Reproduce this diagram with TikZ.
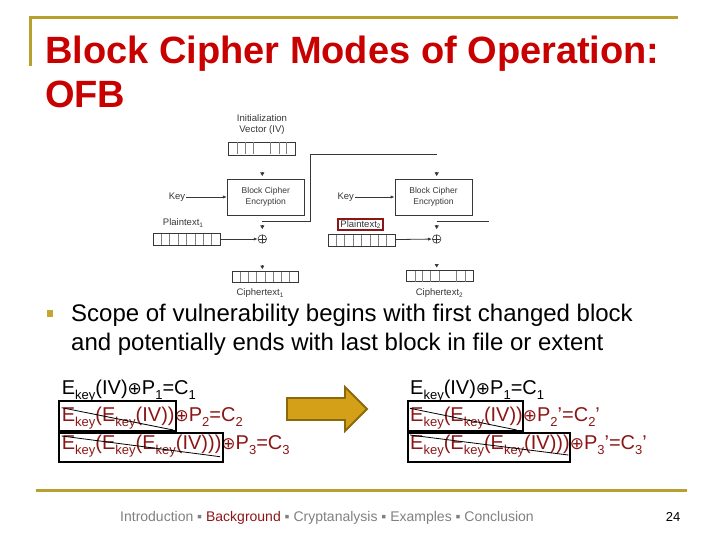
\documentclass[tikz,border=0pt]{standalone}
\usepackage{fontspec}
\setmainfont{Liberation Sans}
\newfontfamily\dejavu{DejaVu Sans}
\usetikzlibrary{arrows.meta}
\definecolor{gold}{RGB}{184,160,48}
\definecolor{bulgold}{RGB}{196,166,50}
\definecolor{titlered}{RGB}{200,0,0}
\definecolor{dred}{RGB}{140,22,22}
\definecolor{arrfill}{RGB}{212,160,23}
\definecolor{arrline}{RGB}{140,104,10}
\definecolor{dgray}{RGB}{55,55,55}
\definecolor{footgray}{RGB}{128,128,128}
\newcommand\sbs[1]{\raisebox{-5pt}{\fontsize{13}{13}\selectfont #1}}
\newcommand\xo{{\dejavu\fontsize{17}{17}\selectfont ⊕}}
\newcommand\dsb[1]{\raisebox{-1.8pt}{\fontsize{6.5}{6.5}\selectfont #1}}
\tikzset{
  dtext/.style={font=\fontsize{9.5}{11}\selectfont, text=dgray, inner sep=1pt},
  encbox/.style={draw=dgray, line width=0.7pt, minimum width=77pt, minimum height=36pt, inner sep=0pt, align=center, font=\fontsize{8.5}{10.5}\selectfont, text=dgray},
  blk/.style={draw=dgray, line width=0.7pt, inner sep=0pt},
  cellline/.style={draw=gray, line width=0.6pt},
  dline/.style={draw=dgray, line width=0.8pt},
  darr/.style={dline, -{Latex[length=4pt,width=3.2pt]}},
  tipdn/.style={draw=dgray, line width=0.6pt, -{Triangle[length=3.5pt,width=4pt]}},
  xor/.style={circle, draw=dgray, line width=0.6pt, minimum size=8.5pt, inner sep=0pt,
    path picture={\draw[dgray, line width=0.6pt] (path picture bounding box.north) -- (path picture bounding box.south) (path picture bounding box.west) -- (path picture bounding box.east);}},
  eq/.style={anchor=base west, inner sep=0pt, font=\fontsize{20}{24}\selectfont},
  xbox/.style={draw=black, line width=2pt},
  strike/.style={draw=black, line width=0.8pt},
  ftext/.style={anchor=base west, inner sep=0pt, font=\fontsize{14}{16}\selectfont, text=footgray},
}
\begin{document}
\begin{tikzpicture}[x=1pt,y=-1pt]
\useasboundingbox (0,0) rectangle (720,540);
% header rule
\draw[gold, line width=3pt] (30,66) -- (30,18) -- (678,18);
\node[anchor=base west, inner sep=0pt, text=titlered, font=\fontsize{38}{45}\selectfont\bfseries] (title1) at (45,64) {Block Cipher Modes of Operation:};
\node[anchor=base west, inner sep=0pt, text=titlered, font=\fontsize{38}{45}\selectfont\bfseries] (title2) at (45,108) {OFB};

% ---------- diagram ----------
\node[dtext, align=center, font=\fontsize{9.6}{11.5}\selectfont] (ivlab) at (262,124.5) {Initialization\\Vector (IV)};
\node[blk, minimum width=67pt, minimum height=13pt] (iv) at (261.5,148.5) {};
\foreach \x in {237.3,245.7,253.3,270,279,286.7} \draw[cellline] (\x,142.5) -- (\x,154.5);

\node[encbox] (enc1) at (265.8,197) {Block Cipher\\Encryption};
\node[encbox] (enc2) at (433.5,197) {Block Cipher\\Encryption};
\node[dtext] (key1) at (177,197) {Key};
\node[dtext] (key2) at (345.7,197) {Key};
\draw[darr] (key1) -- (enc1);
\draw[darr] (key2) -- (enc2);

\node[dtext] (pt1lab) at (183,223) {Plaintext\dsb{1}};
\node[dtext, draw=dred, line width=2pt, inner xsep=2.5pt, inner ysep=1pt] (pt2lab) at (360.5,224.5) {Plaintext\dsb{2}};

\node[blk, minimum width=67pt, minimum height=12pt] (p1) at (186.5,239) {};
\foreach \i in {1,...,7} \draw[cellline] (153+\i*8.375,233.5) -- (153+\i*8.375,244.5);
\node[blk, minimum width=67pt, minimum height=12pt] (p2) at (361.5,240) {};
\foreach \i in {1,...,7} \draw[cellline] (328+\i*8.375,234.5) -- (328+\i*8.375,245.5);

\node[xor] (x1) at (262.3,239) {};
\node[xor] (x2) at (436.7,239) {};
\draw[darr] (p1) -- (x1);
\draw[darr] (p2) -- (x2);

\coordinate (j1) at (262.3,221.7);
\coordinate (j2) at (436.7,154.3);
\coordinate (j3) at (436.7,221.7);
\coordinate (j4) at (489,221.7);
\draw[dline] (j1) -- (310.7,221.7) |- (j2);
\draw[dline] (j3) -- (j4);

\node[blk, minimum width=66pt, minimum height=10.5pt] (c1) at (265,277) {};
\foreach \i in {1,...,7} \draw[cellline] (232+\i*8.25,272) -- (232+\i*8.25,282);
\node[blk, minimum width=66.6pt, minimum height=11.5pt] (c2) at (440,276) {};
\foreach \x in {415,422.7,430,439.3,456.7,465} \draw[cellline] (\x,270.5) -- (\x,281.5);

\node[dtext] (c1lab) at (260,293) {Ciphertext\dsb{1}};
\node[dtext] (c2lab) at (439.3,293) {Ciphertext\dsb{2}};

% small arrow tips
\draw[tipdn] (262.3,172) -- (262.3,176);
\draw[tipdn] (436.7,172) -- (436.7,176);
\draw[tipdn] (262.3,225) -- (262.3,229);
\draw[tipdn] (436.7,225) -- (436.7,229);
\draw[tipdn] (262.3,265) -- (262.3,269);
\draw[tipdn] (436.7,263.5) -- (436.7,267.5);

% ---------- bullet ----------
\node[fill=bulgold, minimum size=6.5pt, inner sep=0pt] (bul) at (50,313.3) {};
\node[anchor=base west, inner sep=0pt, font=\fontsize{24}{29}\selectfont] (b1) at (71,321) {Scope of vulnerability begins with first changed block};
\node[anchor=base west, inner sep=0pt, font=\fontsize{24}{29}\selectfont] (b2) at (71,350) {and potentially ends with last block in file or extent};

% ---------- equations left ----------
\node[eq] (l1) at (61.7,394) {E\sbs{key}(IV)\xo P\sbs{1}=C\sbs{1}};
\node[eq, text=dred] (l2) at (61.7,421.5) {E\sbs{key}(E\sbs{key}(IV))\xo P\sbs{2}=C\sbs{2}};
\node[eq, text=dred] (l3) at (61.7,449.5) {E\sbs{key}(E\sbs{key}(E\sbs{key}(IV)))\xo P\sbs{3}=C\sbs{3}};
\draw[xbox] (59,401) rectangle (176,431);
\draw[strike] (61.7,407.7) -- (173.3,430);
\draw[xbox] (59,433) rectangle (223,462);
\draw[strike] (61.7,436) -- (220,456.7);

% ---------- equations right ----------
\node[eq] (r1) at (410,394) {E\sbs{key}(IV)\xo P\sbs{1}=C\sbs{1}};
\node[eq, text=dred] (r2) at (410,421.5) {E\sbs{key}(E\sbs{key}(IV))\xo P\sbs{2}’=C\sbs{2}’};
\node[eq, text=dred] (r3) at (410,449.5) {E\sbs{key}(E\sbs{key}(E\sbs{key}(IV)))\xo P\sbs{3}’=C\sbs{3}’};
\draw[xbox] (407.7,401) rectangle (523.3,431);
\draw[strike] (410,408.3) -- (516.7,430);
\draw[xbox] (407.7,433) rectangle (570,462);
\draw[strike] (410,435) -- (568.3,455);

% ---------- block arrow ----------
\draw[fill=arrfill, draw=arrline, line width=1.8pt, line join=miter]
  (287,398) -- (345,398) -- (345,387) -- (367,409) -- (345,431) -- (345,420) -- (287,420) -- cycle;

% ---------- footer ----------
\draw[gold, line width=3pt] (36,490) -- (687,490);
\node[ftext] (foot) at (120,521) {Introduction ▪ \textcolor{dred}{Background} ▪ Cryptanalysis ▪ Examples ▪ Conclusion};
\node[anchor=base, inner sep=0pt, font=\fontsize{13}{15}\selectfont] (pg) at (673,521) {24};
\end{tikzpicture}
\end{document}
